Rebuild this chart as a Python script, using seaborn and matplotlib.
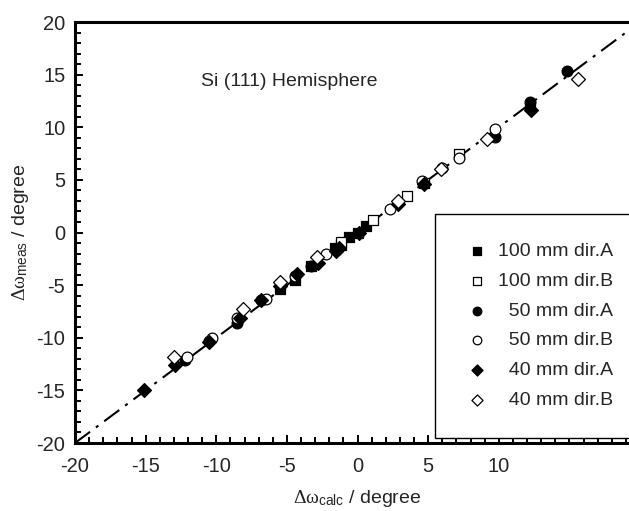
import pandas as pd
import matplotlib
matplotlib.use("Agg")
import matplotlib.pyplot as plt
import seaborn as sns
from matplotlib.ticker import MultipleLocator, FixedLocator

# 100 mm dir.A (filled squares)
sq_a_x = [-5.5, -4.4, -3.3, -1.6, -1.2, -0.6, 0.0, 0.6, 12.2]
sq_a_y = [-5.4, -4.5, -3.2, -1.5, -1.2, -0.4, 0.0, 0.6, 12.0]
# 100 mm dir.B (open squares)
sq_b_x = [-1.2, 1.1, 3.5, 4.7, 7.2]
sq_b_y = [-0.9, 1.2, 3.5, 4.7, 7.5]
# 50 mm dir.A (filled circles)
ci_a_x = [-12.2, -10.5, -8.5, -6.8, -3.3, 9.7, 12.2, 14.8]
ci_a_y = [-12.1, -10.3, -8.6, -6.4, -3.2, 9.1, 12.4, 15.3]
# 50 mm dir.B (open circles)
ci_b_x = [-12.1, -10.3, -8.5, -6.5, -4.4, -2.2, 2.3, 4.6, 6.0, 7.2, 9.7]
ci_b_y = [-11.8, -10.0, -8.1, -6.3, -4.1, -2.0, 2.2, 4.9, 6.1, 7.1, 9.8]
# 40 mm dir.A (filled diamonds)
di_a_x = [-15.1, -12.9, -10.5, -8.3, -6.8, -5.5, -4.3, -2.8, -1.5, -1.3, 0.1, 2.9, 4.7, 12.3]
di_a_y = [-15.0, -12.6, -10.4, -8.1, -6.4, -5.1, -3.9, -2.9, -1.8, -1.5, 0.0, 2.7, 4.6, 11.6]
# 40 mm dir.B (open diamonds)
di_b_x = [-13.0, -8.1, -5.5, -2.9, 2.9, 5.9, 9.2, 15.6]
di_b_y = [-11.8, -7.3, -4.7, -2.3, 3.0, 6.0, 8.9, 14.6]

# reference line y = x
line_x = [-20, 20]
line_y = [-20, 20]

x_ticks = [-20, -15, -10, -5, 0, 5, 10, 15, 20]
x_ticklabels = ["-20", "-15", "-10", "-5", "0", "5", "10", "", ""]
y_ticks = [-20, -15, -10, -5, 0, 5, 10, 15, 20]

series = [
    ("100 mm dir.A", sq_a_x, sq_a_y, "s", True, 45),
    ("100 mm dir.B", sq_b_x, sq_b_y, "s", False, 45),
    ("  50 mm dir.A", ci_a_x, ci_a_y, "o", True, 60),
    ("  50 mm dir.B", ci_b_x, ci_b_y, "o", False, 60),
    ("  40 mm dir.A", di_a_x, di_a_y, "D", True, 50),
    ("  40 mm dir.B", di_b_x, di_b_y, "D", False, 50),
]


def main():
    sns.set_theme(style="ticks")
    plt.rcParams["font.family"] = ["Liberation Sans", "DejaVu Sans"]
    plt.rcParams["axes.unicode_minus"] = False
    plt.rcParams["mathtext.fontset"] = "custom"
    plt.rcParams["mathtext.rm"] = "Liberation Serif"
    plt.rcParams["mathtext.it"] = "Liberation Serif"
    plt.rcParams["mathtext.sf"] = "Liberation Sans"

    fig = plt.figure(figsize=(6.29, 5.11), dpi=100)
    ax = fig.add_axes([75 / 629, 68 / 511, 565 / 629, 421 / 511])

    ax.plot(line_x, line_y, color="black", lw=1.5,
            linestyle=(0, (9, 3.5, 1.5, 3.5)), zorder=1)

    for label, xs, ys, marker, filled, size in series:
        df = pd.DataFrame({"calc": xs, "meas": ys})
        sns.scatterplot(
            data=df, x="calc", y="meas", ax=ax,
            marker=marker, s=size,
            facecolor="black" if filled else "white",
            edgecolor="black", linewidth=0.9,
            label=label, zorder=3,
        )

    ax.set_xlim(-20, 20)
    ax.set_ylim(-20, 20)
    ax.xaxis.set_major_locator(FixedLocator(x_ticks))
    ax.set_xticklabels(x_ticklabels)
    ax.yaxis.set_major_locator(FixedLocator(y_ticks))
    ax.xaxis.set_minor_locator(MultipleLocator(1))
    ax.yaxis.set_minor_locator(MultipleLocator(1))
    ax.tick_params(which="both", direction="in", top=False, right=False,
                   width=1.4, color="black")
    ax.tick_params(which="major", length=6)
    ax.tick_params(which="minor", length=4)
    ax.tick_params(axis="x", which="major", labelsize=14.5, pad=10)
    ax.tick_params(axis="y", which="major", labelsize=14.5, pad=7)

    for side in ["left", "bottom", "top", "right"]:
        ax.spines[side].set_linewidth(2.2)
        ax.spines[side].set_color("black")

    ax.set_xlabel(r"$\Delta\omega_{\mathsf{calc}}$ / degree", fontsize=14, labelpad=9)
    ax.set_ylabel(r"$\Delta\omega_{\mathsf{meas}}$ / degree", fontsize=14, labelpad=4)

    ax.text(-11.1, 14.3, "Si (111) Hemisphere", fontsize=14, va="center", ha="left")

    leg = ax.legend(
        loc="lower left", bbox_to_anchor=(0.637, 0.012, 0.5, 0.5), mode="expand",
        fontsize=14, frameon=True, fancybox=False, framealpha=1,
        edgecolor="black", borderpad=1.5, labelspacing=0.62,
        handlelength=1.35, handletextpad=0.4, markerscale=0.8,
        borderaxespad=0,
    )
    leg.get_frame().set_linewidth(1.0)

    fig.savefig("out.png", dpi=100)


if __name__ == "__main__":
    main()
